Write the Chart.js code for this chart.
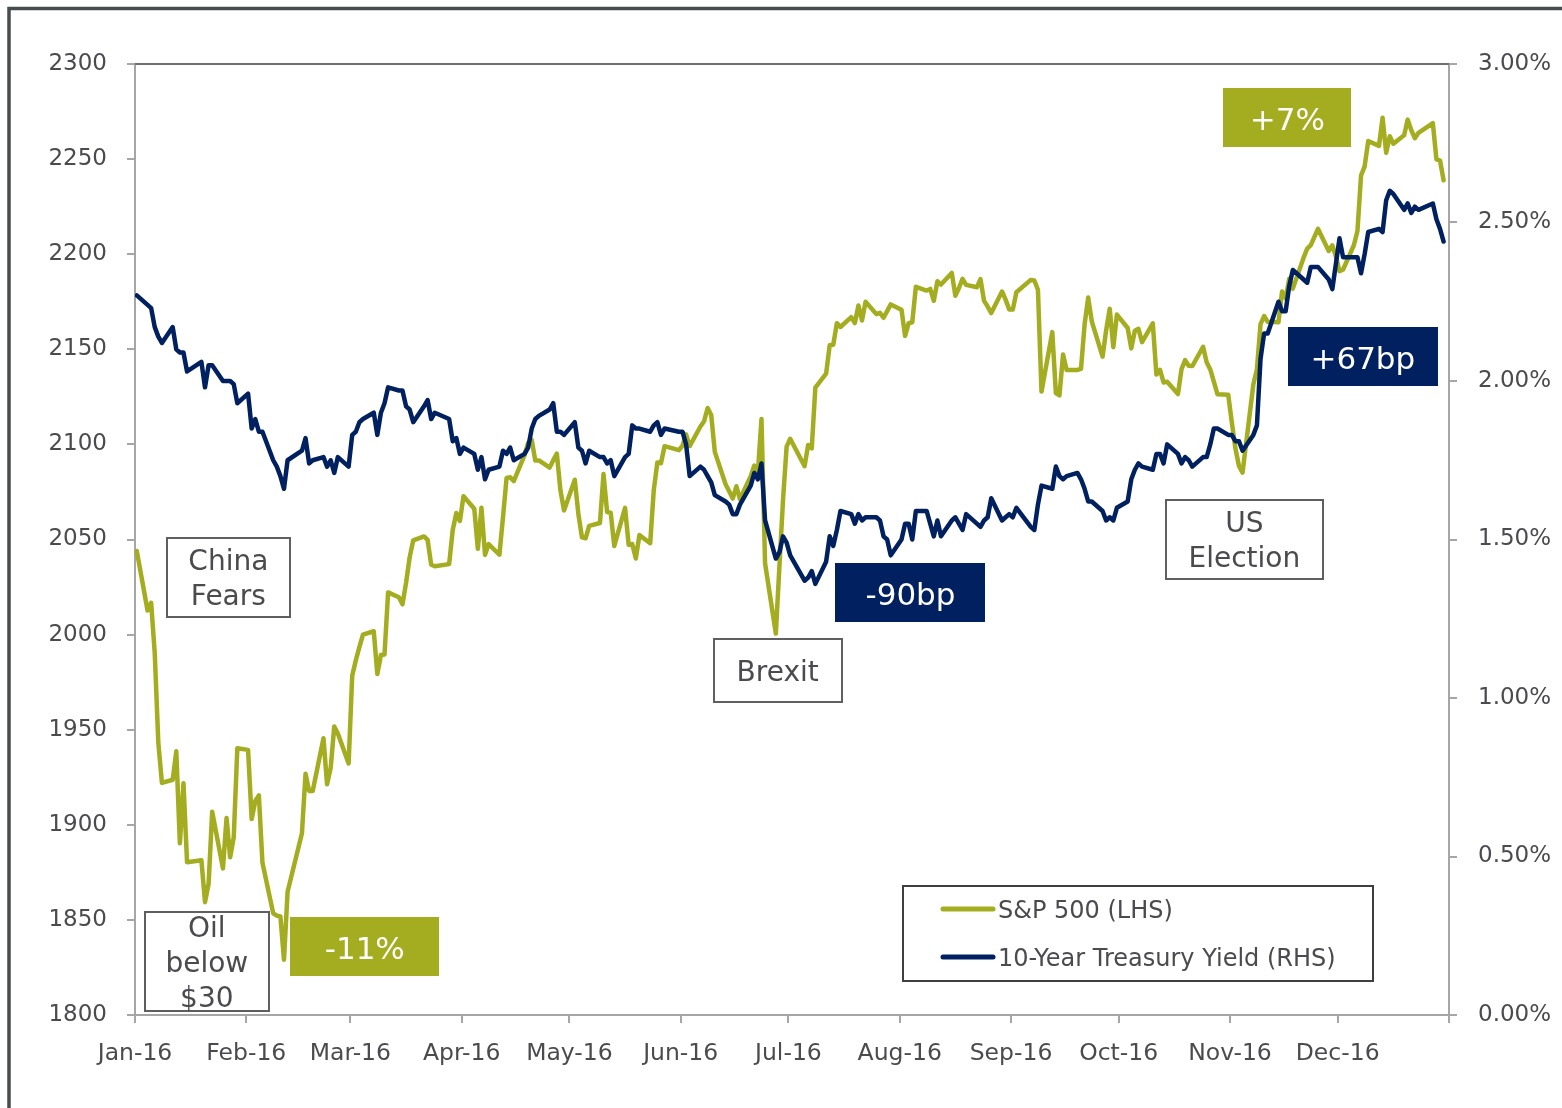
<!DOCTYPE html>
<html>
<head>
<meta charset="utf-8">
<script src="https://cdn.jsdelivr.net/npm/chart.js@4.4.1/dist/chart.umd.min.js"></script>
<style>
html,body{margin:0;padding:0;background:#fff;overflow:hidden}
canvas{display:block}
</style>
</head>
<body>
<canvas id="c" width="1562" height="1108"></canvas>
<script>
// ---------------- DATA ----------------
const dates = [
'2016-01-01','2016-01-04','2016-01-05','2016-01-06','2016-01-07','2016-01-08','2016-01-11','2016-01-12','2016-01-13','2016-01-14','2016-01-15','2016-01-19','2016-01-20','2016-01-21','2016-01-22','2016-01-25','2016-01-26','2016-01-27','2016-01-28','2016-01-29',
'2016-02-01','2016-02-02','2016-02-03','2016-02-04','2016-02-05','2016-02-08','2016-02-09','2016-02-10','2016-02-11','2016-02-12','2016-02-16','2016-02-17','2016-02-18','2016-02-19','2016-02-22','2016-02-23','2016-02-24','2016-02-25','2016-02-26','2016-02-29',
'2016-03-01','2016-03-02','2016-03-03','2016-03-04','2016-03-07','2016-03-08','2016-03-09','2016-03-10','2016-03-11','2016-03-14','2016-03-15','2016-03-16','2016-03-17','2016-03-18','2016-03-21','2016-03-22','2016-03-23','2016-03-24','2016-03-28','2016-03-29','2016-03-30','2016-03-31',
'2016-04-01','2016-04-04','2016-04-05','2016-04-06','2016-04-07','2016-04-08','2016-04-11','2016-04-12','2016-04-13','2016-04-14','2016-04-15','2016-04-18','2016-04-19','2016-04-20','2016-04-21','2016-04-22','2016-04-25','2016-04-26','2016-04-27','2016-04-28','2016-04-29',
'2016-05-02','2016-05-03','2016-05-04','2016-05-05','2016-05-06','2016-05-09','2016-05-10','2016-05-11','2016-05-12','2016-05-13','2016-05-16','2016-05-17','2016-05-18','2016-05-19','2016-05-20','2016-05-23','2016-05-24','2016-05-25','2016-05-26','2016-05-27','2016-05-31',
'2016-06-01','2016-06-02','2016-06-03','2016-06-06','2016-06-07','2016-06-08','2016-06-09','2016-06-10','2016-06-13','2016-06-14','2016-06-15','2016-06-16','2016-06-17','2016-06-20','2016-06-21','2016-06-22','2016-06-23','2016-06-24','2016-06-27','2016-06-28','2016-06-29','2016-06-30',
'2016-07-01','2016-07-05','2016-07-06','2016-07-07','2016-07-08','2016-07-11','2016-07-12','2016-07-13','2016-07-14','2016-07-15','2016-07-18','2016-07-19','2016-07-20','2016-07-21','2016-07-22','2016-07-25','2016-07-26','2016-07-27','2016-07-28','2016-07-29',
'2016-08-01','2016-08-02','2016-08-03','2016-08-04','2016-08-05','2016-08-08','2016-08-09','2016-08-10','2016-08-11','2016-08-12','2016-08-15','2016-08-16','2016-08-17','2016-08-18','2016-08-19','2016-08-22','2016-08-23','2016-08-24','2016-08-25','2016-08-26','2016-08-29','2016-08-30','2016-08-31',
'2016-09-01','2016-09-02','2016-09-06','2016-09-07','2016-09-08','2016-09-09','2016-09-12','2016-09-13','2016-09-14','2016-09-15','2016-09-16','2016-09-19','2016-09-20','2016-09-21','2016-09-22','2016-09-23','2016-09-26','2016-09-27','2016-09-28','2016-09-29','2016-09-30',
'2016-10-03','2016-10-04','2016-10-05','2016-10-06','2016-10-07','2016-10-10','2016-10-11','2016-10-12','2016-10-13','2016-10-14','2016-10-17','2016-10-18','2016-10-19','2016-10-20','2016-10-21','2016-10-24','2016-10-25','2016-10-26','2016-10-27','2016-10-28','2016-10-31',
'2016-11-01','2016-11-02','2016-11-03','2016-11-04','2016-11-07','2016-11-08','2016-11-09','2016-11-10','2016-11-11','2016-11-14','2016-11-15','2016-11-16','2016-11-17','2016-11-18','2016-11-21','2016-11-22','2016-11-23','2016-11-25','2016-11-28','2016-11-29','2016-11-30',
'2016-12-01','2016-12-02','2016-12-05','2016-12-06','2016-12-07','2016-12-08','2016-12-09','2016-12-12','2016-12-13','2016-12-14','2016-12-15','2016-12-16','2016-12-19','2016-12-20','2016-12-21','2016-12-22','2016-12-23','2016-12-27','2016-12-28','2016-12-29','2016-12-30'
];

const spx = [
2043.94,2012.66,2016.71,1990.26,1943.09,1922.03,1923.67,1938.68,1890.28,1921.84,1880.33,1881.33,1859.33,1868.99,1906.90,1877.08,1903.63,1882.95,1893.36,1940.24,
1939.38,1903.03,1912.53,1915.45,1880.05,1853.44,1852.21,1851.86,1829.08,1864.78,1895.58,1926.82,1917.83,1917.78,1945.50,1921.27,1929.80,1951.70,1948.05,1932.23,
1978.35,1986.45,1993.40,1999.99,2001.76,1979.26,1989.26,1989.57,2022.19,2019.64,2015.93,2027.22,2040.59,2049.58,2051.60,2049.80,2036.71,2035.94,2037.05,2055.01,2063.95,2059.74,
2072.78,2066.13,2045.17,2066.66,2041.91,2047.60,2041.99,2061.72,2082.42,2082.78,2080.73,2094.34,2100.80,2102.40,2091.48,2091.58,2087.79,2091.70,2095.15,2075.81,2065.30,
2081.43,2063.37,2051.12,2050.63,2057.14,2058.69,2084.39,2064.46,2064.11,2046.61,2066.66,2047.21,2047.63,2040.04,2052.32,2048.04,2076.06,2090.54,2090.10,2099.06,2096.95,
2099.33,2105.26,2099.13,2109.41,2112.13,2119.12,2115.48,2096.07,2079.06,2075.32,2071.50,2077.99,2071.22,2083.25,2088.90,2085.45,2113.32,2037.41,2000.54,2036.09,2070.77,2098.86,
2102.95,2088.55,2099.73,2097.90,2129.90,2137.16,2152.14,2152.43,2163.75,2161.74,2166.89,2163.78,2173.02,2165.17,2175.03,2168.48,2169.18,2166.58,2170.06,2173.60,
2170.84,2157.03,2163.79,2164.25,2182.87,2180.89,2181.74,2175.49,2185.79,2184.05,2190.15,2178.15,2182.22,2187.02,2183.87,2182.64,2186.90,2175.44,2172.47,2169.04,2180.38,2176.12,2170.95,
2170.86,2179.98,2186.48,2186.16,2181.30,2127.81,2159.04,2127.02,2125.77,2147.26,2139.16,2139.12,2139.76,2163.12,2177.18,2164.69,2146.10,2159.93,2171.37,2151.13,2168.27,
2161.20,2150.49,2159.73,2160.77,2153.74,2163.66,2136.73,2139.18,2132.55,2132.98,2126.50,2139.60,2144.29,2141.34,2141.16,2151.33,2143.16,2139.43,2133.04,2126.41,2126.15,
2111.72,2097.94,2088.66,2085.18,2131.52,2139.56,2163.26,2167.48,2164.45,2164.20,2180.39,2176.94,2187.12,2181.90,2198.18,2202.94,2204.72,2213.35,2201.72,2204.66,2198.81,
2191.08,2191.95,2204.71,2212.23,2241.35,2246.19,2259.53,2256.96,2271.72,2253.28,2262.03,2258.07,2262.53,2270.76,2265.18,2260.96,2263.79,2268.88,2249.92,2249.26,2238.83
];

const ust10y = [
2.27,2.24,2.23,2.17,2.14,2.12,2.17,2.10,2.09,2.09,2.03,2.06,1.98,2.05,2.05,2.00,2.00,2.00,1.99,1.93,
1.96,1.85,1.88,1.84,1.84,1.75,1.73,1.70,1.66,1.75,1.78,1.82,1.74,1.75,1.76,1.73,1.75,1.71,1.76,1.73,
1.83,1.84,1.87,1.88,1.90,1.83,1.90,1.93,1.98,1.97,1.97,1.92,1.91,1.87,1.92,1.94,1.88,1.90,1.88,1.81,1.82,1.77,
1.79,1.77,1.72,1.76,1.69,1.72,1.73,1.78,1.77,1.79,1.75,1.77,1.79,1.85,1.88,1.89,1.91,1.93,1.84,1.84,1.83,
1.87,1.79,1.78,1.74,1.78,1.76,1.76,1.74,1.75,1.70,1.76,1.77,1.86,1.85,1.85,1.84,1.86,1.87,1.83,1.85,1.84,
1.84,1.80,1.70,1.73,1.72,1.70,1.68,1.64,1.62,1.61,1.58,1.58,1.61,1.67,1.71,1.69,1.74,1.56,1.44,1.46,1.51,1.49,
1.45,1.37,1.38,1.40,1.36,1.43,1.51,1.48,1.53,1.59,1.58,1.55,1.58,1.56,1.57,1.57,1.56,1.51,1.50,1.45,
1.50,1.55,1.55,1.50,1.59,1.59,1.55,1.51,1.56,1.51,1.56,1.57,1.55,1.53,1.58,1.55,1.54,1.56,1.57,1.63,1.56,1.57,1.58,
1.57,1.60,1.54,1.53,1.61,1.67,1.66,1.73,1.70,1.69,1.70,1.71,1.69,1.66,1.62,1.62,1.59,1.56,1.57,1.56,1.60,
1.62,1.69,1.72,1.74,1.73,1.72,1.77,1.77,1.74,1.80,1.77,1.74,1.76,1.75,1.73,1.76,1.76,1.80,1.85,1.85,1.83,
1.83,1.81,1.81,1.78,1.83,1.86,2.07,2.15,2.15,2.25,2.22,2.22,2.30,2.35,2.32,2.31,2.36,2.36,2.32,2.29,2.37,
2.45,2.39,2.39,2.39,2.34,2.40,2.47,2.48,2.47,2.57,2.60,2.59,2.54,2.56,2.53,2.55,2.54,2.56,2.51,2.48,2.44
];

const seriesNames = ['S&P 500 (LHS)', '10-Year Treasury Yield (RHS)'];
const monthStarts = ['2016-01-01','2016-02-01','2016-03-01','2016-04-01','2016-05-01','2016-06-01','2016-07-01','2016-08-01','2016-09-01','2016-10-01','2016-11-01','2016-12-01','2017-01-01'];
const monthLabels = ['Jan-16','Feb-16','Mar-16','Apr-16','May-16','Jun-16','Jul-16','Aug-16','Sep-16','Oct-16','Nov-16','Dec-16',''];
const spxTicks = [1800,1850,1900,1950,2000,2050,2100,2150,2200,2250,2300];
const yieldTicks = [0,0.5,1,1.5,2,2.5,3];

// annotation anchors (date, S&P-axis value) and texts
const notes = [
  {at:'2016-01-27', v:2030, lines:['China','Fears'], kind:'box', w:123, h:79},
  {at:'2016-01-21', v:1828, lines:['Oil','below','$30'], kind:'box', w:124, h:99},
  {at:'2016-03-05', v:1836, lines:['-11%'], kind:'green', w:149, h:59},
  {at:'2016-06-28', v:1981, lines:['Brexit'], kind:'box', w:128, h:63},
  {at:'2016-08-04', v:2022, lines:['-90bp'], kind:'navy', w:150, h:59},
  {at:'2016-11-05', v:2050, lines:['US','Election'], kind:'box', w:157, h:79},
  {at:'2016-11-17', v:2272, lines:['+7%'], kind:'green', w:128, h:59},
  {at:'2016-12-08', v:2146, lines:['+67bp'], kind:'navy', w:150, h:59}
];

// ---------------- STYLE ----------------
const GREEN = '#A3AD1F';
const NAVY = '#002060';
const TEXT = '#4b4b4f';
const AXIS = '#a6a6a6';
const FONT = "'DejaVu Sans', Verdana, sans-serif";

const day0 = Date.UTC(2016, 0, 1);
function dayOf(s) { const p = s.split('-').map(Number); return (Date.UTC(p[0], p[1]-1, p[2]) - day0) / 864e5; }

const spxPoints = dates.map((d, i) => ({x: dayOf(d) + 0.5, y: spx[i]}));
const yieldPoints = dates.map((d, i) => ({x: dayOf(d) + 0.5, y: ust10y[i]}));

Chart.defaults.font.family = FONT;
Chart.defaults.font.size = 23;
Chart.defaults.color = TEXT;

function drawText(c, str, x, capCenterY, size, color, align) {
  c.font = size + 'px ' + FONT;
  c.fillStyle = color;
  c.textAlign = align || 'center';
  c.textBaseline = 'alphabetic';
  c.fillText(str, x, capCenterY + 0.365 * size);
}

const decor = {
  id: 'decor',
  beforeDraw(chart) {
    const c = chart.ctx;
    c.save();
    c.fillStyle = '#fff';
    c.fillRect(0, 0, chart.width, chart.height);
    c.strokeStyle = '#4a4b4f';
    c.lineWidth = 3.5;
    c.beginPath();
    c.moveTo(9, chart.height);
    c.lineTo(9, 8.5);
    c.lineTo(chart.width, 8.5);
    c.stroke();
    c.restore();
  },
  beforeDatasetsDraw(chart) {
    const c = chart.ctx, a = chart.chartArea;
    c.save();
    c.strokeStyle = '#6e6e6e';
    c.lineWidth = 2;
    c.beginPath();
    c.moveTo(a.left, a.top);
    c.lineTo(a.right, a.top);
    c.stroke();
    c.restore();
  },
  afterDatasetsDraw(chart) {
    const c = chart.ctx, a = chart.chartArea;
    const xs = chart.scales.x, ys = chart.scales.y;
    c.save();
    notes.forEach(n => {
      const cx = xs.getPixelForValue(dayOf(n.at));
      const cy = ys.getPixelForValue(n.v);
      const l = Math.round(cx - n.w / 2), t = Math.round(cy - n.h / 2);
      if (n.kind === 'box') {
        c.fillStyle = '#fff';
        c.fillRect(l, t, n.w, n.h);
        c.strokeStyle = '#5f5f62';
        c.lineWidth = 2;
        c.strokeRect(l, t, n.w, n.h);
        const lh = 35;
        const y0 = cy - (n.lines.length - 1) * lh / 2;
        n.lines.forEach((s, i) => drawText(c, s, cx, y0 + i * lh, 28, TEXT));
      } else {
        c.fillStyle = n.kind === 'green' ? GREEN : NAVY;
        c.fillRect(l, t, n.w, n.h);
        drawText(c, n.lines[0], cx, cy + 1, 31, '#ffffff');
      }
    });
    // legend
    const lx = a.left + 768, ly = a.bottom - 129, lw = 470, lhgt = 95;
    c.fillStyle = '#fff';
    c.fillRect(lx, ly, lw, lhgt);
    c.strokeStyle = '#3f3f42';
    c.lineWidth = 2;
    c.strokeRect(lx, ly, lw, lhgt);
    chart.data.datasets.forEach((ds, i) => {
      const yy = ly + 23 + i * 48;
      c.strokeStyle = ds.borderColor;
      c.lineWidth = 5;
      c.lineCap = 'round';
      c.beginPath();
      c.moveTo(lx + 40, yy);
      c.lineTo(lx + 90, yy);
      c.stroke();
      drawText(c, ds.label, lx + 95, yy, 24, TEXT, 'left');
    });
    c.restore();
  }
};

new Chart(document.getElementById('c'), {
  type: 'line',
  data: {
    datasets: [
      {label: seriesNames[0], data: spxPoints, yAxisID: 'y', borderColor: GREEN, backgroundColor: GREEN,
       borderWidth: 4.5, pointRadius: 0, tension: 0, borderJoinStyle: 'round', borderCapStyle: 'round', order: 2},
      {label: seriesNames[1], data: yieldPoints, yAxisID: 'y1', borderColor: NAVY, backgroundColor: NAVY,
       borderWidth: 4.5, pointRadius: 0, tension: 0, borderJoinStyle: 'round', borderCapStyle: 'round', order: 1}
    ]
  },
  options: {
    responsive: false,
    animation: false,
    devicePixelRatio: 1,
    layout: {padding: {top: 64, left: 0, right: 0, bottom: 0}},
    plugins: {legend: {display: false}, tooltip: {enabled: false}},
    events: [],
    scales: {
      x: {
        type: 'linear', position: 'bottom', min: 0, max: 366,
        afterBuildTicks: s => { s.ticks = monthStarts.map(d => ({value: dayOf(d)})); },
        afterFit: s => { s.height = 93; },
        ticks: {autoSkip: false, maxRotation: 0, minRotation: 0, padding: 17, font: {size: 23.5},
                callback: (v, i) => monthLabels[i]},
        grid: {drawOnChartArea: false, drawTicks: true, tickLength: 8, color: AXIS, lineWidth: 2},
        border: {display: true, color: AXIS, width: 2}
      },
      y: {
        type: 'linear', position: 'left', min: 1800, max: 2300,
        afterBuildTicks: s => { s.ticks = spxTicks.map(v => ({value: v})); },
        afterFit: s => { s.width = 135; },
        ticks: {padding: 20, callback: v => String(v)},
        grid: {drawOnChartArea: false, drawTicks: true, tickLength: 8, color: AXIS, lineWidth: 2},
        border: {display: true, color: AXIS, width: 2}
      },
      y1: {
        type: 'linear', position: 'right', min: 0, max: 3,
        afterBuildTicks: s => { s.ticks = yieldTicks.map(v => ({value: v})); },
        afterFit: s => { s.width = 113; },
        ticks: {padding: 21, callback: v => v.toFixed(2) + '%'},
        grid: {drawOnChartArea: false, drawTicks: true, tickLength: 8, color: AXIS, lineWidth: 2},
        border: {display: true, color: AXIS, width: 2}
      }
    }
  },
  plugins: [decor]
});
</script>
</body>
</html>
